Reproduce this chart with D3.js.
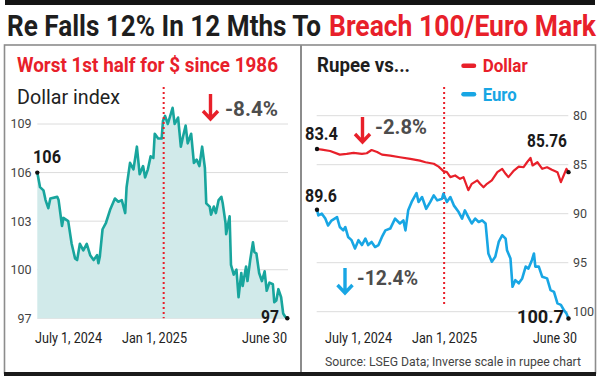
<!DOCTYPE html>
<html><head><meta charset="utf-8">
<script src="https://cdn.jsdelivr.net/npm/d3@7"></script>
<style>body{margin:0;background:#fff}svg{display:block}text{font-family:Roboto,"Noto Sans",sans-serif}</style>
</head><body><svg id="c" width="600" height="380"></svg>
<script>
// x values are days since July 1, 2024 (0 = July 1, 2024; 184 = Jan 1, 2025; 364 = June 30, 2025)
const dxyDays = [0,4,9,12,16,19,29,31,36,38,45,50,55,58,62,67,72,77,82,87,89,91,95,100,106,113,118,123,128,130,135,140,145,149,154,157,161,165,169,171,176,181,183,186,190,197,200,205,209,212,216,219,224,228,232,236,240,244,246,251,253,257,260,264,268,270,274,275,280,282,286,290,293,297,299,304,306,310,314,316,319,323,327,331,334,338,343,345,348,351,355,358,361,364];
const dxyValues = [106.0,105.1,104.9,104.3,103.8,104.4,104.5,104.3,102.7,103.2,103.0,101.6,100.7,100.6,101.6,101.2,101.6,100.9,100.6,100.9,100.4,100.8,102.5,102.9,103.7,104.4,104.2,104.3,103.5,105.1,106.6,106.2,107.6,105.9,106.4,105.7,106.2,107.0,106.9,108.4,108.1,108.1,109.2,109.5,109.0,110.0,109.0,109.4,107.6,108.2,108.9,107.8,108.4,106.6,106.8,106.4,107.6,106.3,104.1,103.9,103.4,103.9,103.5,104.3,104.5,104.1,102.9,102.2,103.3,100.3,99.7,100.0,98.3,99.8,99.0,100.2,99.3,100.6,101.7,101.1,101.0,99.8,99.3,99.9,98.7,99.2,99.1,98.0,98.1,98.8,98.3,97.3,97.1,97.0];

const usdDays = [0,7,19,33,43,53,65,72,79,87,94,106,120,135,149,157,169,176,183,188,193,200,207,212,219,224,232,236,241,246,253,261,268,273,277,285,292,299,304,309,312,319,326,333,340,348,353,357,361,364];
const usdValues = [83.4,83.46,83.6,83.97,83.9,83.8,83.9,83.83,83.5,83.7,83.97,84.07,84.24,84.4,84.58,84.75,84.9,85.2,85.66,85.76,86.27,86.1,86.44,86.27,87.6,86.95,86.6,86.95,87.3,86.95,86.6,85.76,85.42,85.93,86.27,85.6,85.19,85.26,84.75,84.3,85.08,84.75,85.42,85.26,85.52,85.76,86.78,86.1,85.42,85.76];

const eurDays = [0,2,7,12,16,21,29,33,38,41,45,50,55,60,65,70,74,79,84,89,94,99,106,113,120,125,128,132,137,144,147,152,158,164,169,174,181,183,188,193,198,205,210,214,219,224,229,234,239,244,248,253,258,263,268,273,275,280,283,287,292,297,302,306,311,314,316,321,326,333,338,343,348,353,357,361,364];
const eurValues = [89.6,90.17,90.0,90.5,91.2,90.7,90.34,91.36,91.7,91.36,92.37,92.7,93.55,92.7,93.2,92.54,93.2,92.88,93.4,93.2,92.37,91.7,91.52,90.5,91.0,90.68,91.7,89.66,88.8,87.9,88.8,88.3,89.5,88.8,88.13,88.64,88.47,87.96,88.8,88.3,89.15,89.83,90.5,89.66,90.34,91.0,90.5,90.85,90.68,91.0,94.06,94.9,94.4,92.88,92.2,92.54,93.73,94.57,97.46,96.78,97.1,96.6,95.4,95.6,94.74,94.06,95.4,95.4,96.44,96.6,97.8,97.97,99.15,99.3,99.8,100.17,100.7];

const leftTicks = [97,100,103,106,109];
const rightTicks = [80,85,90,95,100];
const dateLabels = ["July 1, 2024","Jan 1, 2025","June 30"];
const jan1Day = 184;

const RED = "#e8202a", TEAL = "#18a59d", FILL = "#d1eaea", BLUE = "#18a6e4", GREY = "#4d4d4d";
const svg = d3.select('#c');

// header band + title
svg.append('rect').attr('x',5).attr('y',0).attr('width',590).attr('height',5).attr('fill','#141414');
svg.append('text').attr('transform','translate(7,36) scale(1,1.2)').attr('font-size',25).attr('font-weight',700)
  .attr('fill','#1e1e1e').attr('textLength',314).attr('lengthAdjust','spacingAndGlyphs')
  .text('Re Falls 12% In 12 Mths To');
svg.append('text').attr('transform','translate(329,36) scale(1,1.2)').attr('font-size',25).attr('font-weight',700)
  .attr('fill',RED).attr('textLength',267).attr('lengthAdjust','spacingAndGlyphs')
  .text('Breach 100/Euro Mark');

// frame
svg.append('rect').attr('x',4.5).attr('y',45).attr('width',591).attr('height',328)
  .attr('fill','none').attr('stroke','#8c8c8c').attr('stroke-width',1.6);
svg.append('line').attr('x1',301).attr('x2',301).attr('y1',45).attr('y2',373)
  .attr('stroke','#8c8c8c').attr('stroke-width',2);
svg.append('rect').attr('x',4).attr('y',372).attr('width',592).attr('height',4).attr('fill','#1a1a1a');

function txt(x,y,s,o){
  const t = svg.append('text').attr('x',x).attr('y',y).text(s);
  t.attr('font-size',o.size).attr('font-weight',o.weight||400).attr('fill',o.fill||'#222')
   .attr('text-anchor',o.anchor||'start');
  if(o.len) t.attr('textLength',o.len).attr('lengthAdjust','spacingAndGlyphs');
  return t;
}
function arrow(x,y1,y2,color){
  svg.append('path').attr('d',`M${x},${y1}L${x},${y2-2}M${x-7.5},${y2-9}L${x},${y2-1}L${x+7.5},${y2-9}`)
    .attr('fill','none').attr('stroke',color).attr('stroke-width',3.4);
}

// ---------- LEFT PANEL ----------
const xL = d3.scaleLinear().domain([0,364]).range([37.3,287.3]);
const yL = d3.scaleLinear().domain([97,109]).range([318.3,124]);

txt(17,72,'Worst 1st half for $ since 1986',{size:21,weight:700,fill:RED,len:261});
txt(17,103.5,'Dollar index',{size:21,fill:'#222',len:103});

svg.append('g').selectAll('line').data(leftTicks).join('line')
  .attr('x1',37.3).attr('x2',288).attr('y1',d=>yL(d)).attr('y2',d=>yL(d))
  .attr('stroke','#dcdcdc').attr('stroke-width',1);
svg.append('g').selectAll('text').data(leftTicks).join('text')
  .attr('x',31.5).attr('y',d=>yL(d)).attr('dy','0.35em').attr('text-anchor','end')
  .attr('font-size',12.5).attr('fill','#444').text(d=>d);

const dxy = dxyDays.map((d,i)=>({d, v:dxyValues[i]}));
svg.append('path').datum(dxy)
  .attr('d',d3.area().x(p=>xL(p.d)).y0(yL(97)).y1(p=>yL(p.v)))
  .attr('fill',FILL);
svg.append('path').datum(dxy)
  .attr('d',d3.line().x(p=>xL(p.d)).y(p=>yL(p.v)))
  .attr('fill','none').attr('stroke',TEAL).attr('stroke-width',2.6).attr('stroke-linejoin','round');

svg.append('line').attr('x1',xL(jan1Day)).attr('x2',xL(jan1Day)).attr('y1',87).attr('y2',318.3)
  .attr('stroke',RED).attr('stroke-width',2).attr('stroke-dasharray','2,3');

arrow(210.5,94,120,RED);
txt(225,115.5,'-8.4%',{size:21,weight:700,fill:GREY,len:53});

svg.append('circle').attr('cx',xL(0)).attr('cy',yL(dxyValues[0])).attr('r',2.2).attr('fill','#111');
svg.append('circle').attr('cx',xL(364)).attr('cy',yL(dxyValues[dxyValues.length-1])).attr('r',2.2).attr('fill','#111');
txt(33,162.7,'106',{size:17.5,weight:700,fill:'#1a1a1a',len:28});
txt(261,322.7,'97',{size:17.5,weight:700,fill:'#1a1a1a',len:18});

// date labels left
txt(35,343,dateLabels[0],{size:14,fill:'#222',len:67});
txt(122,343,dateLabels[1],{size:14,fill:'#222',len:65});
txt(242,343,dateLabels[2],{size:14,fill:'#222',len:45});

// ---------- RIGHT PANEL ----------
const xR = d3.scaleLinear().domain([0,364]).range([317,568.5]);
const yR = d3.scaleLinear().domain([80,100]).range([115.7,311.7]);

txt(317,71.7,'Rupee vs...',{size:21,weight:700,fill:'#1e1e1e',len:93});
svg.append('line').attr('x1',463.5).attr('x2',474).attr('y1',65.7).attr('y2',65.7)
  .attr('stroke',RED).attr('stroke-width',4.5).attr('stroke-linecap','round');
txt(482.7,72.3,'Dollar',{size:18,weight:700,fill:RED,len:45});
svg.append('line').attr('x1',463.5).attr('x2',474).attr('y1',94.3).attr('y2',94.3)
  .attr('stroke',BLUE).attr('stroke-width',4.5).attr('stroke-linecap','round');
txt(482.7,101,'Euro',{size:18,weight:700,fill:BLUE,len:34});

svg.append('g').selectAll('line').data(rightTicks).join('line')
  .attr('x1',316.7).attr('x2',568.3).attr('y1',d=>yR(d)).attr('y2',d=>yR(d))
  .attr('stroke','#dcdcdc').attr('stroke-width',1);
svg.append('g').selectAll('text').data(rightTicks).join('text')
  .attr('x',573).attr('y',d=>yR(d)).attr('dy','0.35em')
  .attr('font-size',12.5).attr('fill','#444').text(d=>d);

svg.append('line').attr('x1',xR(jan1Day)).attr('x2',xR(jan1Day)).attr('y1',87).attr('y2',307)
  .attr('stroke',RED).attr('stroke-width',2).attr('stroke-dasharray','2,3');

const usd = usdDays.map((d,i)=>({d, v:usdValues[i]}));
const eur = eurDays.map((d,i)=>({d, v:eurValues[i]}));
const lineR = d3.line().x(p=>xR(p.d)).y(p=>yR(p.v));
svg.append('path').datum(usd).attr('d',lineR).attr('fill','none').attr('stroke',RED)
  .attr('stroke-width',2.2).attr('stroke-linejoin','round');
svg.append('path').datum(eur).attr('d',lineR).attr('fill','none').attr('stroke',BLUE)
  .attr('stroke-width',2.6).attr('stroke-linejoin','round');

[[0,usdValues[0]],[364,usdValues[usdValues.length-1]],[0,eurValues[0]],[364,eurValues[eurValues.length-1]]]
  .forEach(([d,v])=>svg.append('circle').attr('cx',xR(d)).attr('cy',yR(v)).attr('r',2.2).attr('fill','#111'));

txt(305,140,'83.4',{size:17.5,weight:700,fill:'#1a1a1a',len:33});
txt(305,201.7,'89.6',{size:17.5,weight:700,fill:'#1a1a1a',len:32});
txt(527,147.3,'85.76',{size:17.5,weight:700,fill:'#1a1a1a',len:40});
txt(517,323.3,'100.7',{size:17.5,weight:700,fill:'#1a1a1a',len:47});

arrow(362.5,117,143,RED);
txt(375,133.5,'-2.8%',{size:21,weight:700,fill:GREY,len:52});
arrow(345,268,294,BLUE);
txt(357,285,'-12.4%',{size:21,weight:700,fill:GREY,len:61});

txt(325,343,dateLabels[0],{size:14,fill:'#222',len:67});
txt(412,343,dateLabels[1],{size:14,fill:'#222',len:65});
txt(533,343,dateLabels[2],{size:14,fill:'#222',len:44});
txt(325,366,'Source: LSEG Data; Inverse scale in rupee chart',{size:13,fill:'#444',len:256});
</script></body></html>
